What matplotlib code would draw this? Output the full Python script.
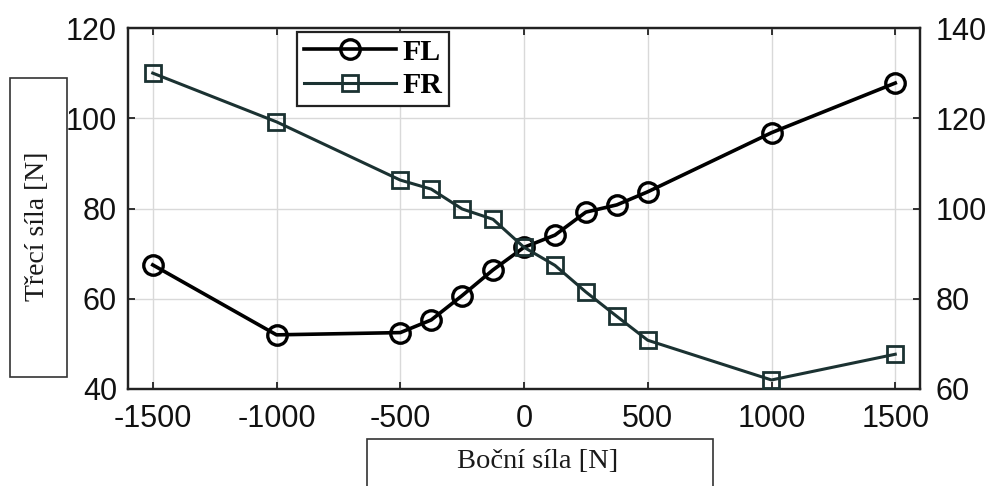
import matplotlib
matplotlib.use("Agg")
import matplotlib.pyplot as plt
from matplotlib.patches import Rectangle

plt.rcParams["axes.unicode_minus"] = False

# Data
x_force = [-1500, -1000, -500, -375, -250, -125, 0, 125, 250, 375, 500, 1000, 1500]
fl_values = [67.5, 52.0, 52.5, 55.3, 60.7, 66.4, 71.4, 74.1, 79.2, 80.8, 83.7, 96.8, 107.8]
fr_values = [130.0, 119.2, 106.3, 104.3, 99.9, 97.6, 91.4, 87.4, 81.5, 76.1, 70.8, 62.0, 67.7]
x_ticks = [-1500, -1000, -500, 0, 500, 1000, 1500]
left_ticks = [40, 60, 80, 100, 120]
right_ticks = [60, 80, 100, 120, 140]

W, H = 986, 486
fig = plt.figure(figsize=(W / 100, H / 100), dpi=100)
ax = fig.add_axes([128 / W, 1 - 389 / H, (920 - 128) / W, (389 - 28) / H])
ax2 = ax.twinx()

sans = "Liberation Sans"
serif = "Liberation Serif"
fr_color = "#1b3232"

l1, = ax.plot(x_force, fl_values, color="black", lw=2.6, marker="o", ms=14,
              mfc="none", mec="black", mew=2.4, label="FL", zorder=3)
l2, = ax2.plot(x_force, fr_values, color=fr_color, lw=2.2, marker="s", ms=12,
               mfc="none", mec=fr_color, mew=2.0, label="FR", zorder=3)

ax.set_xlim(-1600, 1600)
ax.set_ylim(40, 120)
ax2.set_ylim(60, 140)
ax.set_xticks(x_ticks)
ax.set_yticks(left_ticks)
ax2.set_yticks(right_ticks)

ax.grid(True, color="#d9d9d9", lw=1.0)
ax.set_axisbelow(True)

for a in (ax, ax2):
    for s in a.spines.values():
        s.set_linewidth(1.6)
        s.set_color("#222222")

ax.tick_params(axis="both", direction="in", length=5, width=1.3, colors="#222222",
               labelsize=22, top=True, labelcolor="#111111")
ax.tick_params(axis="x", pad=11)
ax.tick_params(axis="y", pad=8)
ax2.tick_params(axis="y", direction="in", length=5, width=1.3, colors="#222222",
                labelsize=22, pad=11, labelcolor="#111111")
for lab in ax.get_xticklabels() + ax.get_yticklabels() + ax2.get_yticklabels():
    lab.set_fontfamily(sans)

leg = ax.legend(handles=[l1, l2], loc="upper left",
                bbox_to_anchor=(297 / W, 1 - 32 / H), bbox_transform=fig.transFigure,
                prop={"family": serif, "weight": "bold", "size": 21.5},
                frameon=True, fancybox=False, edgecolor="#222222",
                framealpha=1, handlelength=3.1, handletextpad=0.2,
                borderpad=0.22, labelspacing=0.22, borderaxespad=0)
leg.get_frame().set_linewidth(1.6)

# Label boxes
fig.patches.append(Rectangle((10 / W, 1 - 377 / H), 57 / W, 299 / H,
                             transform=fig.transFigure, fill=False,
                             edgecolor="#333333", lw=1.2))
fig.text(38 / W, 1 - 226 / H, "Třecí síla [N]", rotation=90, ha="center", va="center",
         family=serif, fontsize=20, color="#1a1a1a")
fig.patches.append(Rectangle((367 / W, -0.05), 346 / W, 0.05 + 1 - 439 / H,
                             transform=fig.transFigure, fill=False,
                             edgecolor="#333333", lw=1.2))
fig.text(538 / W, 1 - 461 / H, "Boční síla [N]", ha="center", va="center",
         family=serif, fontsize=20.5, color="#1a1a1a")

fig.savefig("out.png", dpi=100)
